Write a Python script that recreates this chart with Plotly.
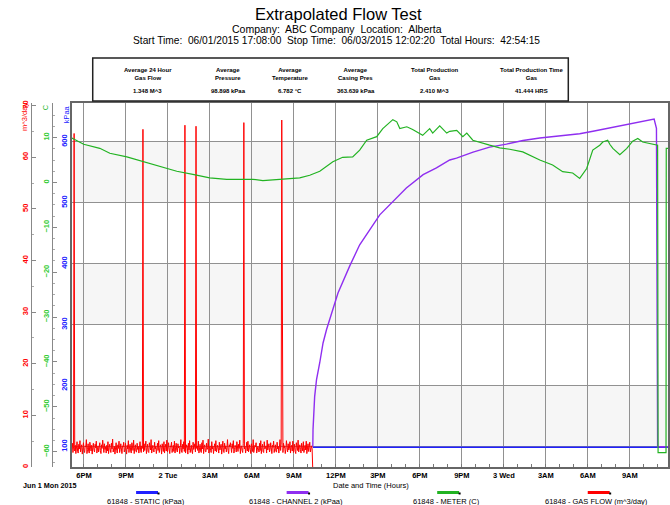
import plotly.graph_objects as go
import pandas as pd

# ---------------- data ----------------
START = "2015-06-01 17:08:00"
END_VIEW = "2015-06-03 11:43:30"

tick_vals = ["2015-06-01 18:00", "2015-06-01 21:00", "2015-06-02 00:00", "2015-06-02 03:00",
             "2015-06-02 06:00", "2015-06-02 09:00", "2015-06-02 12:00", "2015-06-02 15:00",
             "2015-06-02 18:00", "2015-06-02 21:00", "2015-06-03 00:00", "2015-06-03 03:00",
             "2015-06-03 06:00", "2015-06-03 09:00"]
tick_text = ["6PM", "9PM", "2 Tue", "3AM", "6AM", "9AM", "12PM", "3PM", "6PM", "9PM",
             "3 Wed", "3AM", "6AM", "9AM"]

# GAS FLOW (m^3/day), sampled every 2.5 minutes from start
gas_flow = [
    3.4, 4.6, 2.8, 3.9, 64.6, 3.1, 4.2, 2.6, 3.7, 4.9, 3.0, 2.7, 4.4, 3.5, 5.1, 2.9, 3.8, 4.3, 2.5, 3.6,
    4.7, 3.2, 2.8, 4.1, 3.9, 5.3, 2.6, 3.4, 4.5, 3.0, 2.7, 4.8, 3.6, 3.1, 4.2, 2.5, 3.9, 4.6, 3.3, 2.9,
    4.4, 3.7, 5.0, 2.7, 3.5, 4.1, 2.9, 3.8, 4.7, 3.2, 2.6, 4.3, 3.6, 5.2, 3.0, 2.8, 4.5, 3.4, 3.9, 2.7,
    4.2, 3.1, 4.9, 2.6, 3.7, 4.4, 3.3, 2.8, 4.6, 3.5, 5.4, 2.9, 3.6, 4.0, 2.5, 3.8, 4.7, 3.2, 2.7, 4.3,
    3.6, 5.0, 2.8, 3.4, 4.5, 3.0, 2.6, 4.1, 3.9, 4.8, 2.9, 3.3, 4.6, 3.7, 2.5, 4.2, 3.5, 5.1, 2.8, 3.9,
    4.4, 3.1, 2.7, 4.7, 3.6, 3.2, 5.2, 2.6, 3.8, 4.3, 3.0, 2.9, 4.6, 3.4, 4.0, 2.7, 3.7, 4.9, 3.3, 2.8,
    4.1, 3.6, 65.4, 2.9, 4.5, 3.2, 3.8, 5.0, 2.6, 3.5, 4.4, 3.0, 2.8, 4.7, 3.9, 3.3, 5.3, 2.7, 3.6, 4.2,
    3.1, 2.9, 4.8, 3.5, 4.0, 2.6, 3.7, 4.6, 3.2, 5.1, 2.8, 3.4, 4.3, 3.9, 2.5, 4.5, 3.6, 3.0, 4.9, 2.7,
    3.8, 4.4, 3.1, 5.2, 2.9, 3.5, 4.7, 3.3, 2.6, 4.1, 3.9, 4.8, 2.8, 3.6, 4.2, 3.0, 5.0, 2.7, 3.4, 4.6,
    3.2, 2.9, 4.5, 3.7, 4.0, 2.6, 3.8, 5.3, 3.1, 2.8, 4.4, 3.5, 4.9, 3.0, 66.2, 2.7, 3.6, 4.3, 3.9, 2.5,
    4.6, 3.3, 5.1, 2.8, 3.7, 4.2, 3.0, 2.6, 4.8, 3.4, 3.9, 4.5, 2.9, 66.0, 3.6, 4.1, 3.2, 5.0, 2.7, 3.8,
    4.4, 3.1, 2.8, 4.7, 3.5, 5.2, 2.6, 3.9, 4.3, 3.0, 2.9, 4.6, 3.4, 3.7, 5.4, 2.7, 3.6, 4.1, 3.2, 2.8,
    4.9, 3.5, 4.0, 2.6, 3.8, 4.5, 3.1, 5.1, 2.9, 3.4, 4.2, 3.7, 2.7, 4.8, 3.3, 3.9, 4.4, 2.5, 3.6, 5.0,
    3.0, 2.8, 4.6, 3.5, 4.1, 2.9, 3.7, 5.3, 3.2, 2.6, 4.3, 3.9, 4.7, 3.1, 2.8, 4.5, 3.6, 5.1, 2.7, 3.4,
    4.2, 3.8, 2.9, 4.9, 3.3, 3.0, 4.4, 3.6, 5.2, 2.6, 3.9, 4.1, 3.2, 2.8, 4.6, 66.7, 3.5, 4.0, 2.7, 3.7,
    4.8, 3.1, 5.0, 2.9, 3.6, 4.3, 3.4, 2.6, 4.5, 3.8, 3.0, 5.3, 2.8, 3.5, 4.2, 3.9, 4.7, 2.7, 3.3, 4.0,
    3.6, 2.9, 4.6, 3.2, 5.1, 2.6, 3.8, 4.4, 3.0, 2.8, 4.9, 3.5, 3.7, 4.1, 2.7, 5.2, 3.3, 3.9, 4.5, 2.9,
    3.4, 4.7, 3.1, 2.6, 4.2, 3.8, 5.0, 2.8, 3.6, 4.3, 3.0, 2.9, 4.8, 3.5, 4.0, 2.7, 3.9, 5.3, 3.2, 4.4,
    67.2, 3.0, 2.8, 4.6, 3.7, 4.1, 2.6, 3.4, 5.1, 3.9, 2.9, 4.5, 3.3, 3.6, 4.9, 2.7, 3.8, 4.2, 3.1, 5.0,
    2.8, 3.5, 4.4, 3.0, 2.6, 4.7, 3.9, 3.2, 5.2, 2.9, 3.7, 4.3, 3.4, 2.7, 4.6, 3.8, 3.1, 4.9, 2.8, 3.6,
    4.2, 3.3, 5.0, 2.6, 3.9, 4.5, 3.0, 3.7, 4.8, 2.9, 3.4, 4.1, 3.6, 0.0,
]

# METER temperature (C)
meter_times = [
    "2015-06-01 17:08", "2015-06-01 17:59", "2015-06-01 19:08", "2015-06-01 19:51", "2015-06-01 21:04",
    "2015-06-01 22:12", "2015-06-01 23:25", "2015-06-02 00:38", "2015-06-02 01:47", "2015-06-02 02:59",
    "2015-06-02 04:12", "2015-06-02 06:04", "2015-06-02 06:47", "2015-06-02 08:12", "2015-06-02 09:25",
    "2015-06-02 10:08", "2015-06-02 10:51", "2015-06-02 11:47", "2015-06-02 12:29", "2015-06-02 13:12",
    "2015-06-02 13:42", "2015-06-02 14:12", "2015-06-02 14:55", "2015-06-02 15:21", "2015-06-02 15:51",
    "2015-06-02 16:04", "2015-06-02 16:21", "2015-06-02 16:34", "2015-06-02 17:04", "2015-06-02 17:29",
    "2015-06-02 18:12", "2015-06-02 18:42", "2015-06-02 18:55", "2015-06-02 19:25", "2015-06-02 19:55",
    "2015-06-02 20:08", "2015-06-02 20:38", "2015-06-02 21:04", "2015-06-02 21:21", "2015-06-02 21:47",
    "2015-06-02 22:59", "2015-06-02 23:42", "2015-06-03 00:25", "2015-06-03 01:21", "2015-06-03 02:34",
    "2015-06-03 03:29", "2015-06-03 04:12", "2015-06-03 04:55", "2015-06-03 05:25", "2015-06-03 05:55",
    "2015-06-03 06:21", "2015-06-03 06:51", "2015-06-03 07:04", "2015-06-03 07:25", "2015-06-03 07:34",
    "2015-06-03 07:47", "2015-06-03 08:17", "2015-06-03 08:47", "2015-06-03 09:12", "2015-06-03 09:34",
    "2015-06-03 09:55", "2015-06-03 10:38", "2015-06-03 10:59", "2015-06-03 11:01", "2015-06-03 11:35",
    "2015-06-03 11:36", "2015-06-03 12:02",
]
meter_vals = [
    9.9, 8.5, 7.6, 6.5, 5.7, 4.7, 3.6, 2.5, 1.8, 1.0,
    0.7, 0.7, 0.4, 0.7, 1.0, 1.6, 2.5, 4.6, 5.6, 5.7,
    7.2, 9.4, 10.2, 12.0, 13.5, 14.0, 13.5, 12.0, 12.4, 11.8,
    10.5, 12.0, 11.0, 12.6, 11.0, 11.4, 11.6, 10.2, 11.0, 9.4,
    8.3, 7.7, 7.4, 6.8, 5.0, 3.9, 2.4, 2.1, 0.9, 3.1,
    7.2, 8.3, 9.0, 9.4, 8.5, 7.6, 6.2, 7.6, 9.2, 9.8,
    9.0, 8.5, 8.3, -60.2, -60.2,
    7.6, 7.6,
]

# CHANNEL 2 (kPaa)
ch2_times = [
    "2015-06-02 10:21", "2015-06-02 10:22", "2015-06-02 10:29", "2015-06-02 10:37", "2015-06-02 10:51",
    "2015-06-02 11:05", "2015-06-02 11:20", "2015-06-02 12:09", "2015-06-02 12:59", "2015-06-02 13:42",
    "2015-06-02 15:08", "2015-06-02 16:04", "2015-06-02 17:02", "2015-06-02 18:14", "2015-06-02 19:11",
    "2015-06-02 20:08", "2015-06-02 20:37", "2015-06-02 21:48", "2015-06-02 22:59", "2015-06-03 00:11",
    "2015-06-03 01:22", "2015-06-03 02:34", "2015-06-03 03:45", "2015-06-03 05:25", "2015-06-03 06:22",
    "2015-06-03 08:45", "2015-06-03 10:44", "2015-06-03 10:54", "2015-06-03 10:59", "2015-06-03 12:02",
]
ch2_vals = [
    100, 128, 182, 210, 238,
    270, 292, 352, 396, 431,
    480, 502, 524, 546, 557,
    570, 573, 583, 591, 596,
    602, 606, 609, 613, 617,
    628, 637, 622, 100, 100,
]

# STATIC (kPaa)
static_times = ["2015-06-02 10:21", "2015-06-03 12:02"]
static_vals = [99, 99]

stats_headers = ["Average 24 Hour<br>Gas Flow", "Average<br>Pressure", "Average<br>Temperature",
                 "Average<br>Casing Pres", "Total Production<br>Gas", "Total Production Time<br>Gas"]
stats_values = ["1.348 M^3", "98.898 kPaa", "6.782 °C", "363.639 kPaa", "2.410 M^3", "41.444 HRS"]

legend_names = ["61848 - STATIC (kPaa)", "61848 - CHANNEL 2 (kPaa)", "61848 - METER (C)",
                "61848 - GAS FLOW (m^3/day)"]

# ---------------- styling ----------------
BLUE = "#2020ff"
PURPLE = "#8f2ef0"
GREEN = "#22b322"
RED = "#ff0000"
FONT = "Liberation Sans, Arial, sans-serif"

W, H = 670, 505
ML, MR, MT, MB = 0, 0, 103, 38
PH = H - MT - MB


def px(x):
    return x / (W - ML - MR)


def py(y):
    return (H - MB - y) / PH


gas_times = pd.date_range(START, periods=len(gas_flow), freq="150s")

fig = go.Figure()
fig.add_trace(go.Scatter(x=static_times, y=static_vals, mode="lines", yaxis="y",
                         line=dict(color=BLUE, width=1.6), hoverinfo="skip"))
fig.add_trace(go.Scatter(x=pd.to_datetime(ch2_times), y=ch2_vals, mode="lines", yaxis="y",
                         line=dict(color=PURPLE, width=1.4), hoverinfo="skip"))
fig.add_trace(go.Scatter(x=pd.to_datetime(meter_times), y=meter_vals, mode="lines", yaxis="y3",
                         line=dict(color=GREEN, width=1.2, shape="linear"), hoverinfo="skip"))
fig.add_trace(go.Scatter(x=gas_times, y=gas_flow, mode="lines", yaxis="y2",
                         line=dict(color=RED, width=1), hoverinfo="skip"))

shapes = []
# shaded bands
for lo, hi in [(100, 200), (300, 400), (500, 600)]:
    shapes.append(dict(type="rect", xref="paper", yref="y", x0=px(72), x1=1, y0=lo, y1=hi,
                       fillcolor="#f6f6f6", line=dict(width=0), layer="below"))
# stats box
shapes.append(dict(type="rect", xref="paper", yref="paper", x0=px(93), x1=px(570),
                   y0=py(101), y1=py(58), line=dict(color="#222", width=1.5)))
# legend swatches
sw_centers = [148, 299, 450, 601]
sw_colors = [BLUE, PURPLE, GREEN, RED]
for c, col in zip(sw_centers, sw_colors):
    shapes.append(dict(type="line", xref="paper", yref="paper", x0=px(c - 11.5), x1=px(c + 10.5),
                       y0=py(492.5), y1=py(492.5), line=dict(color=col, width=3)))
    shapes.append(dict(type="line", xref="paper", yref="paper", x0=px(c + 10), x1=px(c + 12),
                       y0=py(493.5), y1=py(493.5), line=dict(color="#000", width=2)))

ann = []
ann.append(dict(text="Extrapolated Flow Test", x=px(340), y=py(14), font=dict(size=16.5)))
ann.append(dict(text="Company:  ABC Company  Location:  Alberta", x=px(338), y=py(29), font=dict(size=10.5)))
ann.append(dict(text="Start Time:  06/01/2015 17:08:00  Stop Time:  06/03/2015 12:02:20  Total Hours:  42:54:15",
                x=px(338), y=py(41), font=dict(size=10.2)))
stat_x = [148, 229, 291, 357, 436, 533]
for sx, hd, vl in zip(stat_x, stats_headers, stats_values):
    ann.append(dict(text="<b>" + hd + "</b>", x=px(sx), y=py(74), font=dict(size=6)))
    ann.append(dict(text="<b>" + vl + "</b>", x=px(sx), y=py(91), font=dict(size=6)))
# axis titles
ann.append(dict(text="m^3/day", x=px(25), y=py(117), textangle=-90, font=dict(size=7.5, color=RED)))
ann.append(dict(text="C", x=px(46.5), y=py(107), textangle=-90, font=dict(size=7.5, color=GREEN)))
ann.append(dict(text="kPaa", x=px(66.5), y=py(114), textangle=-90, font=dict(size=7.5, color=BLUE)))
ann.append(dict(text="<b>Jun 1 Mon 2015</b>", x=px(21), y=py(485), xanchor="left", font=dict(size=7.2)))
ann.append(dict(text="Date and Time (Hours)", x=px(372), y=py(485), font=dict(size=7.5)))
for c, name in zip([146.5, 297, 448, 598.5], legend_names):
    ann.append(dict(text=name, x=px(c), y=py(501.5), font=dict(size=7.5)))
for a in ann:
    a.update(xref="paper", yref="paper", showarrow=False)
    a.setdefault("xanchor", "center")
    a["yanchor"] = "middle"
    a["font"].setdefault("color", "#000")
    a["font"]["family"] = FONT

fig.update_layout(
    width=W, height=H,
    margin=dict(l=ML, r=MR, t=MT, b=MB, pad=0),
    paper_bgcolor="white", plot_bgcolor="white",
    showlegend=False,
    font=dict(family=FONT, color="#000"),
    shapes=shapes, annotations=ann,
    xaxis=dict(type="date", domain=[px(72), 1], range=[START, END_VIEW],
               tickmode="array", tickvals=tick_vals, ticktext=tick_text,
               tickfont=dict(size=7.5, color="#000", weight="bold"),
               showgrid=True, gridcolor="#919191", gridwidth=1.3,
               showline=True, linecolor="#666", linewidth=1.5, mirror=True,
               ticks="", zeroline=False,
               minor=dict(tick0="2015-06-01 18:00", dtick=3600000, ticks="inside", ticklen=3,
                          tickcolor="#777", showgrid=False)),
    yaxis=dict(range=[66.7, 663.4], tickmode="array", tickvals=[100, 200, 300, 400, 500, 600],
               tickangle=-90, tickfont=dict(size=7.5, color=BLUE, weight="bold"),
               showgrid=True, gridcolor="#919191", gridwidth=1.3, zeroline=False,
               showline=True, linecolor="#666", linewidth=1.5, mirror=True, ticks="",
               anchor="x"),
    yaxis2=dict(overlaying="y", anchor="free", position=px(30.7), side="left",
                range=[0, 70.5], dtick=10, tick0=0, tickangle=-90,
                tickfont=dict(size=7.5, color=RED, weight="bold"),
                showgrid=False, zeroline=False, showline=True, linecolor="#888", linewidth=1,
                ticks="inside", ticklen=4, tickcolor="#888",
                minor=dict(dtick=5, ticks="inside", ticklen=2, tickcolor="#aaa")),
    yaxis3=dict(overlaying="y", anchor="free", position=px(51.7), side="left",
                range=[-63.4, 17.7], dtick=10, tick0=0, tickangle=-90,
                tickfont=dict(size=7.5, color="#33cc33", weight="bold"),
                showgrid=False, zeroline=False, showline=True, linecolor="#888", linewidth=1,
                ticks="inside", ticklen=4, tickcolor="#888",
                minor=dict(dtick=2.5, ticks="inside", ticklen=2, tickcolor="#aaa")),
)

fig.write_html("out.html", config={"displayModeBar": False},
               post_script="document.body.style.margin='0';document.body.style.padding='0';"
                           "document.body.style.overflow='hidden';")
